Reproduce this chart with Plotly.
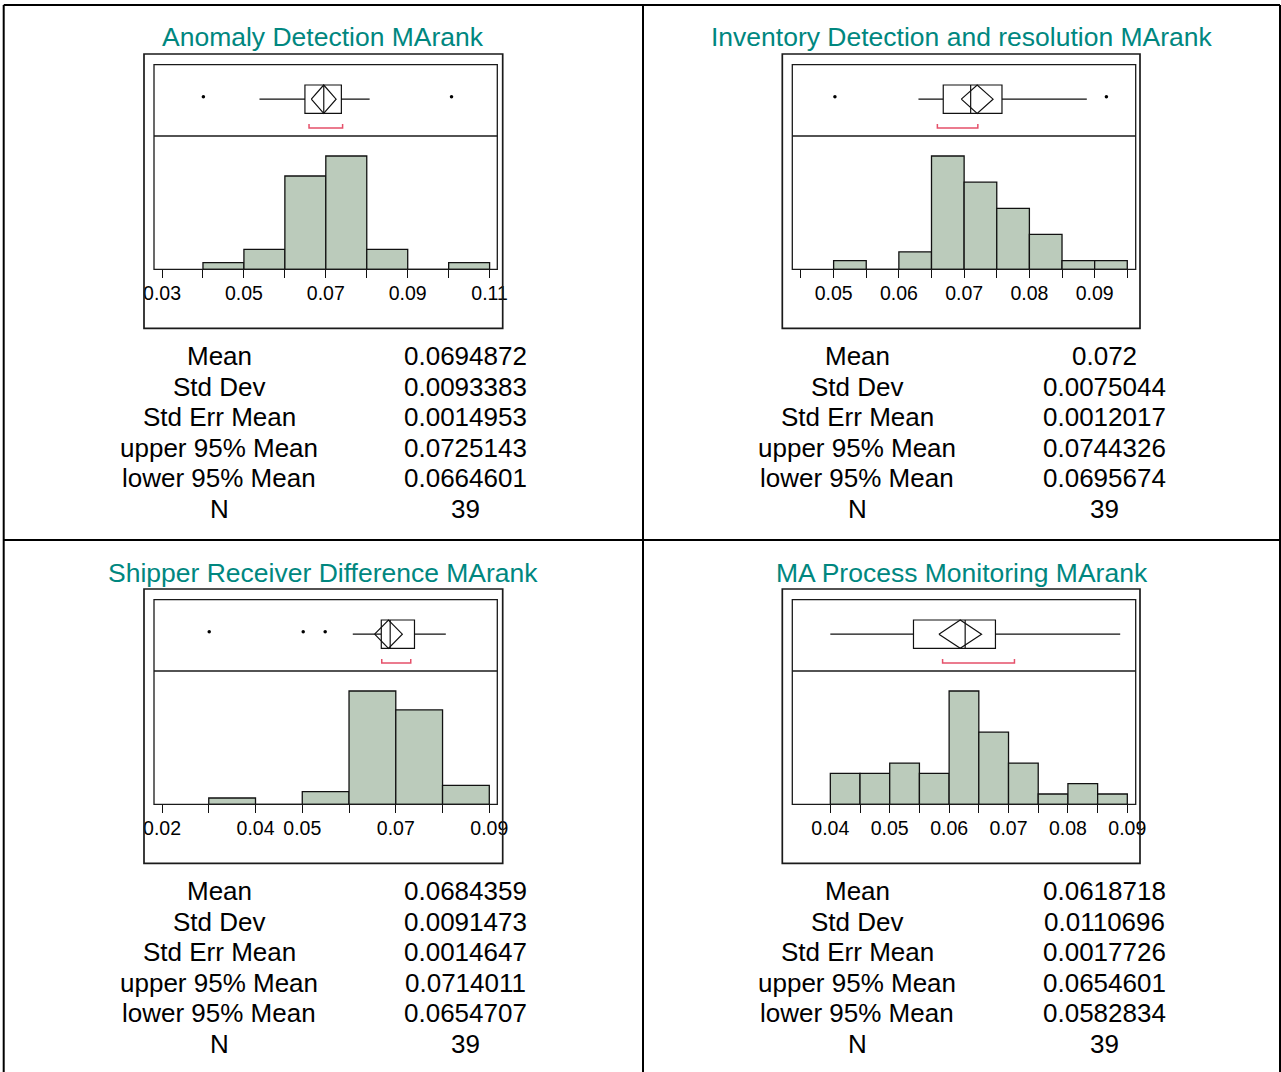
import plotly.graph_objects as go

# ---------------- data ----------------
titles = [
    "Anomaly Detection MArank",
    "Inventory Detection and resolution MArank",
    "Shipper Receiver Difference MArank",
    "MA Process Monitoring MArank",
]

# histogram bins: first edge, bin width and counts per bin
bin_start = [0.04, 0.05, 0.03, 0.04]
bin_width = [0.01, 0.005, 0.01, 0.005]
counts_anomaly = [1, 3, 14, 17, 3, 0, 1]
counts_inventory = [1, 0, 2, 13, 10, 7, 4, 1, 1]
counts_shipper = [1, 0, 2, 18, 15, 3]
counts_process = [3, 3, 4, 3, 11, 7, 4, 1, 2, 1]
counts = [counts_anomaly, counts_inventory, counts_shipper, counts_process]

# outlier box plot summaries
lower_whisker = [0.0538, 0.0630, 0.0608, 0.0400]
quartile1 = [0.0649, 0.0668, 0.0669, 0.0540]
median = [0.0695, 0.0710, 0.0688, 0.0627]
quartile3 = [0.0738, 0.0758, 0.0740, 0.0678]
upper_whisker = [0.0807, 0.0888, 0.0807, 0.0888]
outliers = [[0.0401, 0.1007], [0.0502, 0.0918], [0.0301, 0.0502, 0.0549], []]
shortest_half = [[0.0659, 0.0741], [0.0659, 0.0721], [0.0670, 0.0732], [0.0589, 0.0710]]

# moments table
stat_names = ["Mean", "Std Dev", "Std Err Mean", "upper 95% Mean", "lower 95% Mean", "N"]
stats_anomaly = ["0.0694872", "0.0093383", "0.0014953", "0.0725143", "0.0664601", "39"]
stats_inventory = ["0.072", "0.0075044", "0.0012017", "0.0744326", "0.0695674", "39"]
stats_shipper = ["0.0684359", "0.0091473", "0.0014647", "0.0714011", "0.0654707", "39"]
stats_process = ["0.0618718", "0.0110696", "0.0017726", "0.0654601", "0.0582834", "39"]
stats = [stats_anomaly, stats_inventory, stats_shipper, stats_process]

# axis ticks and labels
tick_vals = [
    [0.03, 0.04, 0.05, 0.06, 0.07, 0.08, 0.09, 0.10, 0.11],
    [0.045, 0.05, 0.055, 0.06, 0.065, 0.07, 0.075, 0.08, 0.085, 0.09, 0.095],
    [0.02, 0.03, 0.04, 0.05, 0.06, 0.07, 0.08, 0.09],
    [0.04, 0.045, 0.05, 0.055, 0.06, 0.065, 0.07, 0.075, 0.08, 0.085, 0.09],
]
tick_text = [
    ["0.03", "", "0.05", "", "0.07", "", "0.09", "", "0.11"],
    ["", "0.05", "", "0.06", "", "0.07", "", "0.08", "", "0.09", ""],
    ["0.02", "", "0.04", "0.05", "", "0.07", "", "0.09"],
    ["0.04", "", "0.05", "", "0.06", "", "0.07", "", "0.08", "", "0.09"],
]
x_ranges = [[0.02804, 0.11188], [0.04367, 0.09629], [0.01829, 0.09171], [0.0336, 0.09141]]

# ---------------- layout geometry (pixels) ----------------
W, H = 1281, 1072
FONT = "Liberation Sans, Arial, Helvetica, sans-serif"
TEAL = "#00877F"
BAR_FILL = "#BBCBBB"
BRACKET = "#E5506A"

col_inner_left = [154.0, 792.3]
col_inner_right = [497.3, 1135.7]
col_outer_left = [144.0, 782.3]
col_outer_right = [502.7, 1140.0]
col_title_x = [323.0, 962.0]
col_label_x = [219.0, 857.0]
col_value_x = [465.0, 1104.0]
row_offset = [0.0, 535.0]


def fx(x):
    return x / W


def fy(y):
    return 1 - y / H


fig = go.Figure()
layout_axes = {}
shapes = []
annotations = []

BOX_Y = 0.5165
BOX_W = 0.397

for k in range(4):
    col, row = k % 2, k // 2
    dy = row_offset[row]
    xl, xr = col_inner_left[col], col_inner_right[col]
    top, sep, base = 64.7 + dy, 136.0 + dy, 269.3 + dy
    xa = f"x{k + 1}"
    yh = f"y{2 * k + 1}"
    yb = f"y{2 * k + 2}"

    # histogram
    c = counts[k]
    centers = [bin_start[k] + bin_width[k] * (i + 0.5) for i in range(len(c))]
    fig.add_trace(go.Bar(
        x=centers, y=c, width=[bin_width[k]] * len(c),
        marker=dict(color=BAR_FILL, line=dict(color="#111111", width=1.3)),
        xaxis=xa, yaxis=yh, showlegend=False, hoverinfo="skip",
    ))

    # outlier box plot
    fig.add_trace(go.Box(
        q1=[quartile1[k]], median=[median[k]], q3=[quartile3[k]],
        lowerfence=[lower_whisker[k]], upperfence=[upper_whisker[k]],
        y=[BOX_Y], orientation="h", width=BOX_W, whiskerwidth=0,
        fillcolor="white", line=dict(color="#111111", width=1.2),
        boxpoints=False, xaxis=xa, yaxis=yb, showlegend=False, hoverinfo="skip",
    ))

    # means diamond from the mean and its 95% confidence limits
    m = float(stats[k][0])
    hi = float(stats[k][3])
    lo = float(stats[k][4])
    d_top, d_bot = BOX_Y + BOX_W / 2, BOX_Y - BOX_W / 2
    fig.add_trace(go.Scatter(
        x=[lo, m, hi, m, lo], y=[BOX_Y, d_top, BOX_Y, d_bot, BOX_Y],
        mode="lines", line=dict(color="#111111", width=1.2),
        xaxis=xa, yaxis=yb, showlegend=False, hoverinfo="skip",
    ))

    # outliers
    if outliers[k]:
        fig.add_trace(go.Scatter(
            x=outliers[k], y=[0.551] * len(outliers[k]), mode="markers",
            marker=dict(color="black", size=3.5),
            xaxis=xa, yaxis=yb, showlegend=False, hoverinfo="skip",
        ))

    # shortest half bracket
    s0, s1 = shortest_half[k]
    fig.add_trace(go.Scatter(
        x=[s0, s0, s1, s1], y=[0.168, 0.112, 0.112, 0.168],
        mode="lines", line=dict(color=BRACKET, width=1.5),
        xaxis=xa, yaxis=yb, showlegend=False, hoverinfo="skip",
    ))

    # axes
    suffix = "" if k == 0 else str(k + 1)
    layout_axes[f"xaxis{suffix}"] = dict(
        domain=[fx(xl), fx(xr)], range=x_ranges[k], anchor=yh,
        tickmode="array", tickvals=tick_vals[k], ticktext=tick_text[k],
        ticks="outside", ticklen=8, tickwidth=1.2, tickcolor="#111111",
        ticklabelstandoff=-2,
        showline=False, showgrid=False, zeroline=False, fixedrange=True,
        automargin=False,
        tickfont=dict(family=FONT, size=19.5, color="black"),
    )
    ymax = max(c) / 0.85
    layout_axes[f"yaxis{2 * k + 1}"] = dict(
        domain=[fy(base), fy(sep)], range=[0, ymax], anchor=xa,
        visible=False, fixedrange=True, automargin=False,
    )
    layout_axes[f"yaxis{2 * k + 2}"] = dict(
        domain=[fy(sep), fy(top)], range=[0, 1], anchor=xa,
        visible=False, fixedrange=True, automargin=False,
    )

    # frames
    frame = dict(color="#1a1a1a", width=1.3)
    shapes.append(dict(type="rect", xref="paper", yref="paper",
                       x0=fx(xl), x1=fx(xr), y0=fy(base), y1=fy(top), line=frame))
    shapes.append(dict(type="line", xref="paper", yref="paper",
                       x0=fx(xl), x1=fx(xr), y0=fy(sep), y1=fy(sep), line=frame))
    shapes.append(dict(type="rect", xref="paper", yref="paper",
                       x0=fx(col_outer_left[col]), x1=fx(col_outer_right[col]),
                       y0=fy(328.3 + dy), y1=fy(54.0 + dy),
                       line=dict(color="#1a1a1a", width=1.7)))

    # title
    annotations.append(dict(
        text=titles[k], x=fx(col_title_x[col]), y=fy(37.5 + dy),
        xref="paper", yref="paper", xanchor="center", yanchor="middle",
        showarrow=False, font=dict(family=FONT, size=26.5, color=TEAL),
    ))

    # moments table
    for r, name in enumerate(stat_names):
        ry = 356.0 + dy + r * 30.6
        annotations.append(dict(
            text=name, x=fx(col_label_x[col]), y=fy(ry),
            xref="paper", yref="paper", xanchor="center", yanchor="middle",
            showarrow=False, font=dict(family=FONT, size=26, color="black"),
        ))
        annotations.append(dict(
            text=stats[k][r], x=fx(col_value_x[col]), y=fy(ry),
            xref="paper", yref="paper", xanchor="center", yanchor="middle",
            showarrow=False, font=dict(family=FONT, size=26, color="black"),
        ))

# table rules
grid = dict(color="black", width=2)
for x0, y0, x1, y1 in [
    (3.7, 5.0, 1280.0, 5.0),
    (3.7, 540.0, 1280.0, 540.0),
    (3.7, 5.0, 3.7, 1072.0),
    (643.0, 5.0, 643.0, 1072.0),
    (1280.0, 5.0, 1280.0, 1072.0),
]:
    shapes.append(dict(type="line", xref="paper", yref="paper",
                       x0=fx(x0), x1=fx(x1), y0=fy(y0), y1=fy(y1), line=grid))

fig.update_layout(
    width=W, height=H, autosize=False,
    margin=dict(l=0, r=0, t=0, b=0, pad=0, autoexpand=False),
    paper_bgcolor="white", plot_bgcolor="rgba(0,0,0,0)",
    showlegend=False, hovermode=False, barmode="overlay",
    shapes=shapes, annotations=annotations,
    **layout_axes,
)

fig.write_html("out.html", config={"displayModeBar": False, "responsive": False})
